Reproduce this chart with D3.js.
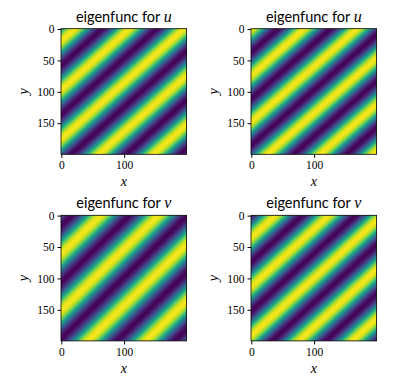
<!DOCTYPE html>
<html>
<head>
<meta charset="utf-8">
<script src="https://cdn.jsdelivr.net/npm/d3@7"></script>
<style>
html, body { margin: 0; padding: 0; background: #fff; }
svg { display: block; }
.tick text { font-family: "Liberation Serif", serif; font-size: 11.5px; fill: #000; }
</style>
</head>
<body>
<div id="chart"></div>
<script>
// values
let titleNames = ["u", "u", "v", "v"];
let xTicks = [0, 100];
let yTicks = [0, 50, 100, 150];
let gridSize = 200;

// one stripe, crest to crest, as colour fraction
let stripeProfile = [1, 0.93, 0.75, 0.5, 0.25, 0.07, 0, 0.07, 0.25, 0.5, 0.75, 0.93, 1];

// per panel: stripe spacing along x and y, and where a crest meets the left edge
let periodX = [87, 84, 92, 85];
let periodY = [78, 74, 90, 78];
let crestLeft = [19, 0, 61, 35];

let panelLeft = [61, 251, 61, 251];
let panelTop = [28.7, 28.7, 215.3, 215.3];
let panelSize = 125.6;

let svg = d3.select("#chart").append("svg")
    .attr("width", 395)
    .attr("height", 387);

let color = d3.scaleSequential(d3.interpolateViridis).domain([0, 1]);
let profileScale = d3.scaleLinear()
    .domain(stripeProfile.map((d, i) => i / (stripeProfile.length - 1)))
    .range(stripeProfile);

function stripeImage(p) {
    let canvas = document.createElement("canvas");
    canvas.width = gridSize;
    canvas.height = gridSize;
    let ctx = canvas.getContext("2d");
    for (let j = 0; j < gridSize; j++) {
        for (let i = 0; i < gridSize; i++) {
            let t = i / periodX[p] + (j - crestLeft[p]) / periodY[p];
            ctx.fillStyle = color(profileScale(t - Math.floor(t)));
            ctx.fillRect(i, j, 1, 1);
        }
    }
    return canvas.toDataURL();
}

titleNames.forEach((name, p) => {
    let x = d3.scaleLinear().domain([-0.5, gridSize - 0.5]).range([0, panelSize]);
    let y = d3.scaleLinear().domain([-0.5, gridSize - 0.5]).range([0, panelSize]);

    let g = svg.append("g")
        .attr("transform", `translate(${panelLeft[p]},${panelTop[p]})`);

    g.append("image")
        .attr("x", x(-0.5))
        .attr("y", y(-0.5))
        .attr("width", panelSize)
        .attr("height", panelSize)
        .attr("preserveAspectRatio", "none")
        .attr("href", stripeImage(p));

    g.append("g")
        .attr("transform", `translate(0,${panelSize})`)
        .call(d3.axisBottom(x).tickValues(xTicks).tickSize(3.5).tickPadding(3.5).tickFormat(d3.format("d")))
        .call(a => a.select(".domain").remove());

    g.append("g")
        .call(d3.axisLeft(y).tickValues(yTicks).tickSize(3.5).tickPadding(3).tickFormat(d3.format("d")))
        .call(a => a.select(".domain").remove());

    // frame
    g.append("rect")
        .attr("width", panelSize)
        .attr("height", panelSize)
        .attr("fill", "none")
        .attr("stroke", "#000")
        .attr("stroke-width", 0.8);

    // title
    let title = g.append("text")
        .attr("x", panelSize / 2)
        .attr("y", -7)
        .attr("text-anchor", "middle")
        .style("font-family", "Lato, sans-serif")
        .style("font-size", "14.5px")
        .attr("fill", "#000")
        .text("eigenfunc for ");
    title.append("tspan")
        .style("font-family", "'Liberation Serif', serif")
        .style("font-style", "italic")
        .style("font-size", "16px")
        .text(name);

    // axis labels
    g.append("text")
        .attr("x", panelSize / 2)
        .attr("y", panelSize + 32)
        .attr("text-anchor", "middle")
        .style("font-family", "'Liberation Serif', serif")
        .style("font-style", "italic")
        .style("font-size", "14px")
        .text("x");

    g.append("text")
        .attr("transform", `translate(-33,${panelSize / 2}) rotate(-90)`)
        .attr("text-anchor", "middle")
        .style("font-family", "'Liberation Serif', serif")
        .style("font-style", "italic")
        .style("font-size", "14px")
        .text("y");
});
</script>
</body>
</html>
